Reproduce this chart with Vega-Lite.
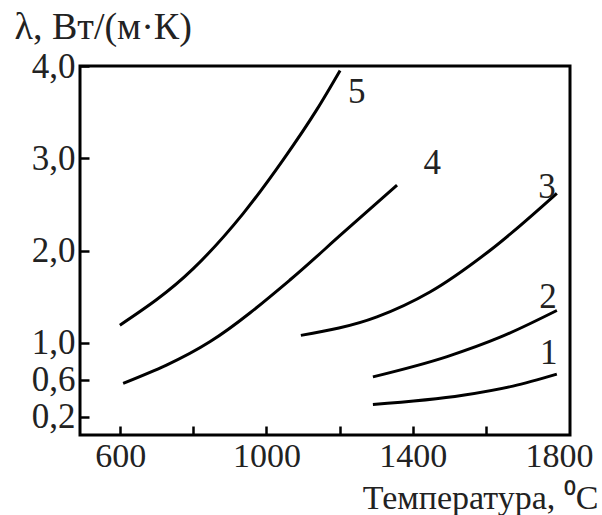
{
  "$schema": "https://vega.github.io/schema/vega-lite/v6.json",
  "width": 490,
  "height": 369,
  "autosize": "none",
  "padding": {"left": 80, "top": 66, "right": 32, "bottom": 80},
  "background": "white",
  "config": {
    "view": {"stroke": "black", "strokeWidth": 3},
    "font": "Liberation Serif"
  },
  "datasets": {
    "curves": [
      {"curve": "5", "t": 599, "lam": 1.19},
      {"curve": "5", "t": 799, "lam": 1.80},
      {"curve": "5", "t": 936, "lam": 2.40},
      {"curve": "5", "t": 1045, "lam": 2.98},
      {"curve": "5", "t": 1138, "lam": 3.53},
      {"curve": "5", "t": 1201, "lam": 3.95},
      {"curve": "4", "t": 608, "lam": 0.56},
      {"curve": "4", "t": 845, "lam": 1.01},
      {"curve": "4", "t": 1064, "lam": 1.68},
      {"curve": "4", "t": 1209, "lam": 2.19},
      {"curve": "4", "t": 1357, "lam": 2.71},
      {"curve": "3", "t": 1094, "lam": 1.08},
      {"curve": "3", "t": 1302, "lam": 1.28},
      {"curve": "3", "t": 1447, "lam": 1.55},
      {"curve": "3", "t": 1611, "lam": 2.0},
      {"curve": "3", "t": 1794, "lam": 2.62},
      {"curve": "2", "t": 1291, "lam": 0.63},
      {"curve": "2", "t": 1494, "lam": 0.85},
      {"curve": "2", "t": 1639, "lam": 1.06},
      {"curve": "2", "t": 1794, "lam": 1.35},
      {"curve": "1", "t": 1291, "lam": 0.33},
      {"curve": "1", "t": 1537, "lam": 0.43},
      {"curve": "1", "t": 1674, "lam": 0.53},
      {"curve": "1", "t": 1794, "lam": 0.66}
    ],
    "labels": [
      {"label": "5", "t": 1247, "lam": 3.72},
      {"label": "4", "t": 1453, "lam": 2.95},
      {"label": "3", "t": 1767, "lam": 2.69},
      {"label": "2", "t": 1770, "lam": 1.50},
      {"label": "1", "t": 1772, "lam": 0.89}
    ]
  },
  "layer": [
    {
      "data": {"name": "curves"},
      "mark": {"type": "line", "interpolate": "monotone", "color": "black", "strokeWidth": 3, "clip": true},
      "encoding": {
        "x": {
          "field": "t", "type": "quantitative",
          "scale": {"domain": [490, 1830], "nice": false, "zero": false},
          "axis": {
            "values": [600, 800, 1000, 1200, 1400, 1600, 1800],
            "labelExpr": "datum.value == 800 || datum.value == 1200 || datum.value == 1600 ? '' : datum.label",
            "format": "d",
            "domain": false, "grid": false,
            "tickSize": -9, "tickWidth": 2.5, "tickColor": "black",
            "tickOpacity": {"condition": {"test": "datum.value == 1800", "value": 0}, "value": 1},
            "labelFont": "Liberation Serif", "labelFontSize": 34, "labelColor": "#222",
            "labelPadding": 13, "labelFlush": false, "labelOverlap": false,
            "title": "Температура, ⁰С",
            "titleFont": "Liberation Serif", "titleFontSize": 34, "titleFontWeight": "normal", "titleColor": "#222",
            "titleAlign": "right", "titleAnchor": null, "titleBaseline": "alphabetic",
            "titleX": 518, "titleY": 73
          }
        },
        "y": {
          "field": "lam", "type": "quantitative",
          "scale": {"domain": [0, 4.0], "nice": false, "zero": false},
          "axis": {
            "values": [0.2, 0.6, 1.0, 2.0, 3.0, 4.0],
            "labelExpr": "replace(format(datum.value, '.1f'), '.', ',')",
            "domain": false, "grid": false,
            "tickSize": -9, "tickWidth": 2.5, "tickColor": "black",
            "labelFont": "Liberation Serif", "labelFontSize": 35, "labelColor": "#222",
            "labelPadding": 14, "labelFlush": false, "labelOverlap": false,
            "title": "λ, Вт/(м·К)",
            "titleFont": "Liberation Serif", "titleFontSize": 38, "titleFontWeight": "normal", "titleColor": "#222",
            "titleAngle": 0, "titleAlign": "left", "titleAnchor": null, "titleBaseline": "alphabetic",
            "titleX": -66, "titleY": -28
          }
        },
        "detail": {"field": "curve", "type": "nominal"}
      }
    },
    {
      "data": {"name": "labels"},
      "mark": {"type": "text", "font": "Liberation Serif", "fontSize": 35, "color": "#222", "align": "center", "baseline": "middle"},
      "encoding": {
        "x": {"field": "t", "type": "quantitative"},
        "y": {"field": "lam", "type": "quantitative"},
        "text": {"field": "label", "type": "nominal"}
      }
    }
  ]
}
